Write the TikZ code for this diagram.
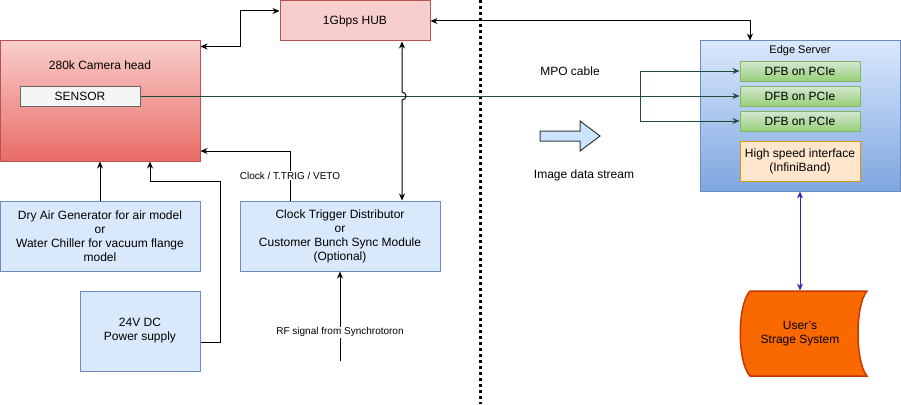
\documentclass[tikz,border=0pt]{standalone}
\usepackage{fontspec}
\setmainfont{Liberation Sans}
\usetikzlibrary{arrows.meta}
\definecolor{hubfill}{HTML}{F8CECC}
\definecolor{hubline}{HTML}{B85450}
\definecolor{camlow}{HTML}{EA6B66}
\definecolor{bluefill}{HTML}{DAE8FC}
\definecolor{blueline}{HTML}{6C8EBF}
\definecolor{bluelow}{HTML}{7EA6E0}
\definecolor{greenfill}{HTML}{D5E8D4}
\definecolor{greenlow}{HTML}{97D077}
\definecolor{greenline}{HTML}{82B366}
\definecolor{orangefill}{HTML}{FFE6CC}
\definecolor{orangeline}{HTML}{D79B00}
\definecolor{storefill}{HTML}{FA6800}
\definecolor{storeline}{HTML}{C73500}
\definecolor{fibre}{HTML}{1F4D3A}
\definecolor{infini}{HTML}{3A1FB0}
\definecolor{flowfill}{HTML}{CCE5FF}
\definecolor{flowline}{HTML}{36393D}
\begin{document}
\begin{tikzpicture}[x=1pt, y=-1pt, line width=1pt,
    font=\fontsize{12}{14}\selectfont,
    box/.style={draw=blueline, fill=bluefill, align=center, inner sep=0pt},
    dfb/.style={draw=greenline, top color=greenfill, bottom color=greenlow,
      minimum width=120pt, minimum height=20pt, inner sep=0pt},
    tip/.style={-{Stealth[length=7pt, width=6pt]}},
    biarrow/.style={{Stealth[length=7pt, width=6pt]}-{Stealth[length=7pt, width=6pt]}},
    small/.style={font=\fontsize{10}{12}\selectfont, fill=white, inner sep=1pt}]
  \useasboundingbox (0,0) rectangle (901,404);
  % left half: camera side
  \node[draw=hubline, top color=hubfill, bottom color=camlow,
    minimum width=200pt, minimum height=120pt] (cam) at (100,101) {};
  \node (camtitle) at (100,65) {280k Camera head};
  \node[draw=black!60, fill=black!4, minimum width=120pt,
    minimum height=20pt, inner sep=0pt] (sens) at (80,96) {SENSOR};
  \node[draw=hubline, fill=hubfill, minimum width=150pt,
    minimum height=40pt] (hub) at (355,21) {1Gbps HUB};
  \node[box, minimum width=200pt, minimum height=70pt] (dry) at (100,236)
    {Dry Air Generator for air model\\or\\Water Chiller for vacuum flange\\model};
  \node[box, minimum width=120pt, minimum height=80pt] (psu) at (140,331)
    {24V DC\\Power supply};
  \node[box, minimum width=200pt, minimum height=70pt] (clk) at (340,236)
    {Clock Trigger Distributor\\or\\Customer Bunch Sync Module\\(Optional)};
  % split between the two halves
  \draw[line width=3pt, dash pattern=on 3pt off 3pt] (480,0) -- (480,404);
  % right half: server side
  \node[draw=blueline, top color=bluefill, bottom color=bluelow,
    minimum width=200pt, minimum height=150pt] (srv) at (800,116) {};
  \node[font=\fontsize{11}{13}\selectfont] (srvtitle) at (800,51) {Edge Server};
  \node[dfb] (dfb1) at (800,71) {DFB on PCIe};
  \node[dfb] (dfb2) at (800,96) {DFB on PCIe};
  \node[dfb] (dfb3) at (800,121) {DFB on PCIe};
  \node[draw=orangeline, fill=orangefill, minimum width=120pt,
    minimum height=40pt, inner sep=0pt, align=center] (hsi) at (800,161)
    {High speed interface\\(InfiniBand)};
  \fill[storefill, draw=storeline, line width=1.5pt]
    (750,291) -- (867,291) .. controls (855,305) and (855,362) .. (867,376)
    -- (750,376) .. controls (737,362) and (737,305) .. (750,291) -- cycle;
  \node[align=center, minimum height=85pt] (store) at (800,333.5)
    {User's\\Strage System};
  \node (mpo) at (570,71) {MPO cable};
  \node (stream) at (584,175) {Image data stream};
  \draw[fill=flowfill, draw=flowline] (540,131) -- (580,131) -- (580,121)
    -- (600,136) -- (580,151) -- (580,141) -- (540,141) -- cycle;
  % connectors
  \draw[biarrow] ([yshift=-6pt]cam.north east) -| (240,11)
    -- ([yshift=10pt]hub.west);
  \draw[biarrow] (hub.east) -| ([xshift=-50pt]srv.north);
  \draw[fibre, tip] (sens.east) -- (dfb2.west);
  \coordinate (split) at (640,96);
  \draw[fibre, tip] (split) |- (dfb1.west);
  \draw[fibre, tip] (split) |- (dfb3.west);
  \draw[biarrow] ([xshift=47pt]hub.south) -- (402,92)
    arc[start angle=90, end angle=-90, radius=4pt]
    -- ([xshift=62pt]clk.north);
  \draw[tip] (dry.north) -- (dry.north |- cam.south);
  \draw[tip] ([yshift=-11pt]psu.east) -| (220,181)
    -| ([xshift=50pt]cam.south);
  \draw[tip] ([xshift=-50pt]clk.north) |- ([yshift=-50pt]cam.east)
    node[small, pos=0.25] {Clock / T.TRIG / VETO};
  \coordinate (rf) at (340,361);
  \draw[tip] (rf) -- (clk.south)
    node[small, pos=0.32] {RF signal from Synchrotoron};
  \draw[infini, biarrow] (srv.south) -- (store.north);
\end{tikzpicture}
\end{document}
